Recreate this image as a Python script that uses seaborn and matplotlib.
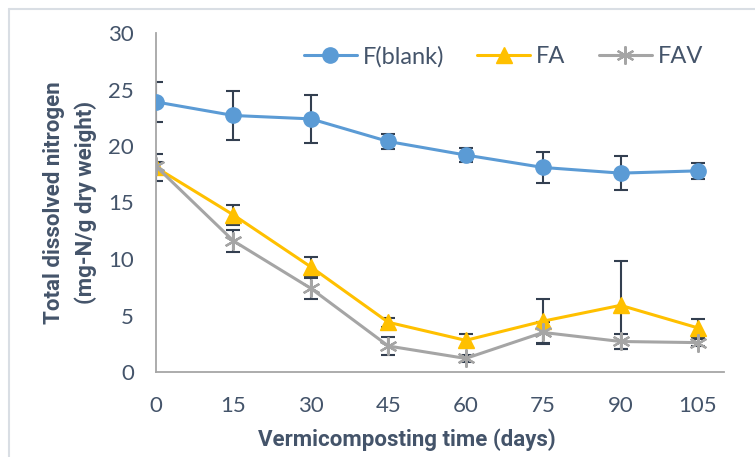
import numpy as np
import pandas as pd
import matplotlib
matplotlib.use("Agg")
import matplotlib.pyplot as plt
from matplotlib.lines import Line2D
import seaborn as sns

sns.set_style("white")
plt.rcParams['font.family'] = ['Lato', 'DejaVu Sans']

# Data
days = [0, 15, 30, 45, 60, 75, 90, 105]
f_blank = [23.9, 22.7, 22.4, 20.4, 19.2, 18.1, 17.6, 17.8]
f_blank_err = [1.8, 2.2, 2.1, 0.7, 0.6, 1.4, 1.5, 0.7]
fa = [18.1, 13.9, 9.3, 4.4, 2.8, 4.5, 5.9, 3.9]
fa_err = [1.2, 0.9, 0.9, 0.4, 0.6, 2.0, 3.9, 0.8]
fav = [18.2, 11.6, 7.4, 2.3, 1.2, 3.5, 2.7, 2.6]
fav_err = [0.4, 1.0, 0.9, 0.8, 0.3, 0.9, 0.7, 0.3]

series = ["F(blank)", "FA", "FAV"]
values = [f_blank, fa, fav]
errors = [f_blank_err, fa_err, fav_err]
colors = ["#5B9BD5", "#FFC000", "#A5A5A5"]
markers = ["o", "^", (6, 2, 0)]
msizes = [11, 11, 13]

text_col = "#44546A"
axis_col = "#A6A6A6"
err_col = "#333F50"

fig = plt.figure(figsize=(7.55, 4.57), dpi=100)
ax = fig.add_axes([156 / 755, 1 - 372 / 457, (724 - 156) / 755, (372 - 33) / 457])

for i in range(len(series)):
    ax.errorbar(days, values[i], yerr=errors[i], fmt='none', ecolor=err_col,
                elinewidth=1.5, capsize=5, capthick=1.5, zorder=2)
    df = pd.DataFrame({"day": days, "val": values[i]})
    sns.lineplot(data=df, x="day", y="val", ax=ax, color=colors[i], linewidth=2.2,
                 marker=markers[i], markersize=msizes[i], markeredgecolor=colors[i],
                 markeredgewidth=1.6 if i == 2 else 1, label=series[i], zorder=3)

ax.set_xlim(0, 105 * 568 / 542)
ax.set_ylim(0, 30)
ax.set_xticks(days)
ax.set_yticks(range(0, 31, 5))

for s in ["top", "right"]:
    ax.spines[s].set_visible(False)
for s in ["left", "bottom"]:
    ax.spines[s].set_color(axis_col)
    ax.spines[s].set_linewidth(1.3)
ax.tick_params(axis='both', direction='out', length=6, width=1.3, color=axis_col,
               labelsize=16, labelcolor=text_col)
ax.tick_params(axis='x', pad=11)
ax.tick_params(axis='y', pad=10)

lab_font = dict(family=['Roboto', 'DejaVu Sans'], fontweight='bold', fontsize=16,
                color=text_col)
ax.set_xlabel("Vermicomposting time (days)", **lab_font)
ax.set_ylabel("Total dissolved nitrogen\n(mg-N/g dry weight)", linespacing=1.55, **lab_font)
ax.xaxis.set_label_coords((407 - 156) / 568, -0.166)
ax.yaxis.set_label_coords(-0.103, 0.5)

leg = ax.legend(loc='upper right', bbox_to_anchor=(0.963, 0.962), ncol=3, frameon=False,
                borderaxespad=0, borderpad=0, handlelength=2.25, columnspacing=1.4,
                handletextpad=0.25, fontsize=17)
for t in leg.get_texts():
    t.set_color(text_col)

# chart area border (partly cut off in the reference)
fig.add_artist(Line2D([9 / 755, 9 / 755], [0, 1 - 9 / 457], color="#D9DEE4", lw=1.5))
fig.add_artist(Line2D([9 / 755, 1], [1 - 9 / 457, 1 - 9 / 457], color="#D9DEE4", lw=1.5))

fig.savefig("out.png", dpi=100)
